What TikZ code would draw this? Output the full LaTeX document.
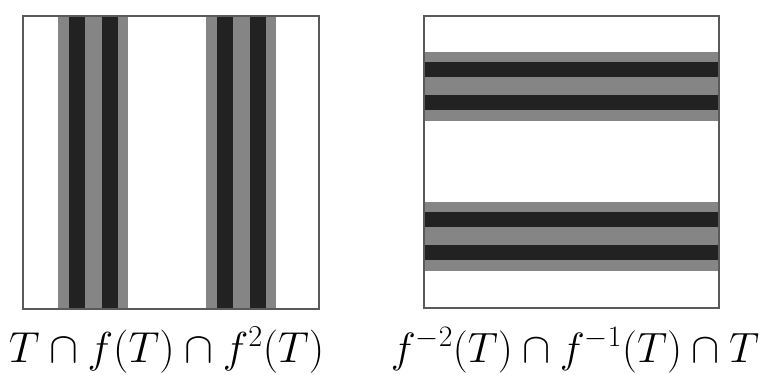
\RequirePackage{fix-cm}
\documentclass[tikz,border=0pt]{standalone}
\definecolor{midgray}{HTML}{858585}
\definecolor{darkband}{HTML}{222222}
\definecolor{frame}{HTML}{5A5A5A}
\tikzset{
  panel/.style={draw=frame, line width=1.5bp, fill=none, inner sep=0pt, anchor=north west},
  graybar/.style={fill=midgray},
  darkbar/.style={fill=darkband},
  caption/.style={inner sep=0pt, anchor=base}
}
\begin{document}
\begin{tikzpicture}[x=1bp,y=-1bp]
\useasboundingbox (0,0) rectangle (772,374);
\begin{scope}
\clip (0,0) rectangle (772,374);
% left panel
\foreach \a in {58,206}{
  \fill[graybar] (\a,15) rectangle ({\a+70},308);
  \fill[darkbar] ({\a+11},15) rectangle ({\a+27},308);
  \fill[darkbar] ({\a+44},15) rectangle ({\a+60},308);
}
\node[panel, minimum width=296bp, minimum height=293bp] (L) at (22,15) {};
% right panel
\foreach \b in {52,202}{
  \fill[graybar] (423,\b) rectangle (718,{\b+69});
  \fill[darkbar] (423,{\b+10}) rectangle (718,{\b+25});
  \fill[darkbar] (423,{\b+43}) rectangle (718,{\b+58});
}
\node[panel, minimum width=295bp, minimum height=292bp] (R) at (423,15) {};
% captions
\node[caption, font=\fontsize{43.5}{50}\selectfont] (capL) at (166.5,362) {$T\cap f(T)\cap f^2(T)$};
\node[caption, font=\fontsize{42.5}{50}\selectfont] (capR) at (575,362) {$f^{-2}(T)\cap f^{-1}(T)\cap T$};
\end{scope}
\end{tikzpicture}
\end{document}
